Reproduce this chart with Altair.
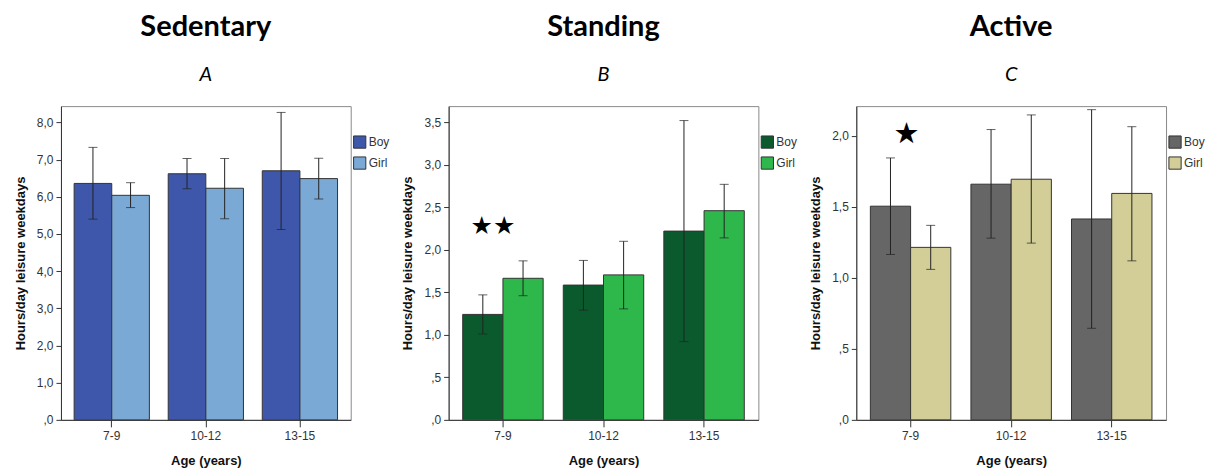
import altair as alt
import pandas as pd

ages = ["7-9", "10-12", "13-15"]
sexes = ["Boy", "Girl"]

# Panel A: Sedentary
sed_boy = [6.36, 6.62, 6.70]
sed_boy_lo = [5.40, 6.22, 5.12]
sed_boy_hi = [7.33, 7.03, 8.27]
sed_girl = [6.04, 6.23, 6.49]
sed_girl_lo = [5.71, 5.41, 5.94]
sed_girl_hi = [6.38, 7.03, 7.04]

# Panel B: Standing
std_boy = [1.24, 1.585, 2.22]
std_boy_lo = [1.01, 1.29, 0.92]
std_boy_hi = [1.47, 1.875, 3.52]
std_girl = [1.665, 1.705, 2.46]
std_girl_lo = [1.46, 1.305, 2.14]
std_girl_hi = [1.87, 2.10, 2.77]

# Panel C: Active
act_boy = [1.505, 1.66, 1.415]
act_boy_lo = [1.165, 1.28, 0.645]
act_boy_hi = [1.845, 2.045, 2.185]
act_girl = [1.215, 1.695, 1.595]
act_girl_lo = [1.06, 1.245, 1.12]
act_girl_hi = [1.37, 2.148, 2.065]

sed_ticks = [0, 1, 2, 3, 4, 5, 6, 7, 8]
std_ticks = [0, 0.5, 1, 1.5, 2, 2.5, 3, 3.5]
act_ticks = [0, 0.5, 1, 1.5, 2]

sed_colors = ["#3e57ab", "#7aa9d6"]
std_colors = ["#0b5a2e", "#2eb84b"]
act_colors = ["#666666", "#d3ce97"]

std_star = {"age": ["7-9"], "y": [2.28], "t": ["★★"]}
act_star = {"age": ["7-9"], "y": [2.01], "t": ["★"]}

LABEL_EXPR = "(datum.value < 1 ? '' : floor(datum.value)) + ',' + (round(datum.value * 10) % 10)"
H = 314


def panel(title, sub, boy, blo, bhi, girl, glo, ghi, colors, ymax, ticks, width,
          star=None, star_dx=0, star_size=24):
    df = pd.DataFrame({
        "age": ages * 2,
        "sex": ["Boy"] * 3 + ["Girl"] * 3,
        "mean": boy + girl,
        "lo": blo + glo,
        "hi": bhi + ghi,
    })
    xscale = alt.Scale(domain=ages, paddingInner=0.2, paddingOuter=0.14)
    xaxis = alt.Axis(title="Age (years)", labelAngle=0, tickSize=7,
                     labelPadding=4, titlePadding=13)
    xoscale = alt.Scale(domain=sexes, paddingInner=0, paddingOuter=0)
    yscale = alt.Scale(domain=[0, ymax], nice=False, zero=True)
    yaxis = alt.Axis(values=ticks, labelExpr=LABEL_EXPR,
                     title="Hours/day leisure weekdays", tickSize=5,
                     labelPadding=3, titlePadding=9, grid=False,
                     labelOverlap=False)

    def X():
        return alt.X("age:N", sort=ages, scale=xscale, axis=xaxis)

    def XO():
        return alt.XOffset("sex:N", sort=sexes, scale=xoscale)

    def Y(field):
        return alt.Y(field, scale=yscale, axis=yaxis)

    color = alt.Color("sex:N", sort=sexes,
                      scale=alt.Scale(domain=sexes, range=colors),
                      legend=alt.Legend(title=None, orient="none", legendX=width + 2,
                                        legendY=29, symbolType="square",
                                        symbolSize=150, symbolStrokeColor="#333",
                                        symbolStrokeWidth=1, symbolOpacity=1,
                                        labelFont="Liberation Sans", labelFontSize=12,
                                        labelColor="#333", labelOffset=2,
                                        rowPadding=3, padding=0))
    bars = alt.Chart(df).mark_bar(stroke="#333", strokeWidth=1, opacity=1).encode(
        x=X(), xOffset=XO(), y=Y("mean:Q"), color=color)
    rules = alt.Chart(df).mark_rule(color="#222", strokeWidth=1).encode(
        x=X(), xOffset=XO(), y=Y("lo:Q"), y2="hi:Q")
    cap_lo = alt.Chart(df).mark_tick(color="#222", thickness=1, size=9,
                                     orient="horizontal").encode(
        x=X(), xOffset=XO(), y=Y("lo:Q"))
    cap_hi = alt.Chart(df).mark_tick(color="#222", thickness=1, size=9,
                                     orient="horizontal").encode(
        x=X(), xOffset=XO(), y=Y("hi:Q"))
    layers = [bars, rules, cap_lo, cap_hi]
    if star is not None:
        sdf = pd.DataFrame(star)
        stars = alt.Chart(sdf).mark_text(font="DejaVu Sans", fontSize=star_size,
                                         color="#000", dx=star_dx,
                                         baseline="middle").encode(
            x=X(), y=Y("y:Q"), text="t:N")
        layers.append(stars)
    return alt.layer(*layers).properties(
        width=width, height=H,
        title=alt.TitleParams(text=title, subtitle=sub, font="Lato", fontSize=29,
                              fontWeight="bold", color="#000", anchor="middle",
                              subtitleFont="Lato", subtitleFontSize=20,
                              subtitleFontStyle="italic", subtitleColor="#000",
                              subtitlePadding=23, offset=21),
    )


A = panel("Sedentary", "A", sed_boy, sed_boy_lo, sed_boy_hi, sed_girl, sed_girl_lo,
          sed_girl_hi, sed_colors, 8.44, sed_ticks, 290)
B = panel("Standing", "B", std_boy, std_boy_lo, std_boy_hi, std_girl, std_girl_lo,
          std_girl_hi, std_colors, 3.69, std_ticks, 310, star=std_star, star_dx=-10,
          star_size=25)
C = panel("Active", "C", act_boy, act_boy_lo, act_boy_hi, act_girl, act_girl_lo,
          act_girl_hi, act_colors, 2.21, act_ticks, 310, star=act_star, star_dx=-4,
          star_size=29)

chart = alt.hconcat(A, B, C, spacing=98, bounds="flush").resolve_scale(
    color="independent", xOffset="independent", y="independent", x="independent"
).properties(
    padding={"left": 5, "top": 4, "right": 0, "bottom": 0}
).configure_view(stroke="#8a8a8a", strokeWidth=1).configure_axis(
    labelFont="Liberation Sans", labelFontSize=12, labelColor="#333",
    titleFont="Liberation Sans", titleFontSize=13, titleFontWeight="bold",
    titleColor="#111", domainColor="#333", tickColor="#333", domainWidth=1
)

chart.save("out.html", embed_options={"renderer": "svg", "actions": False})
